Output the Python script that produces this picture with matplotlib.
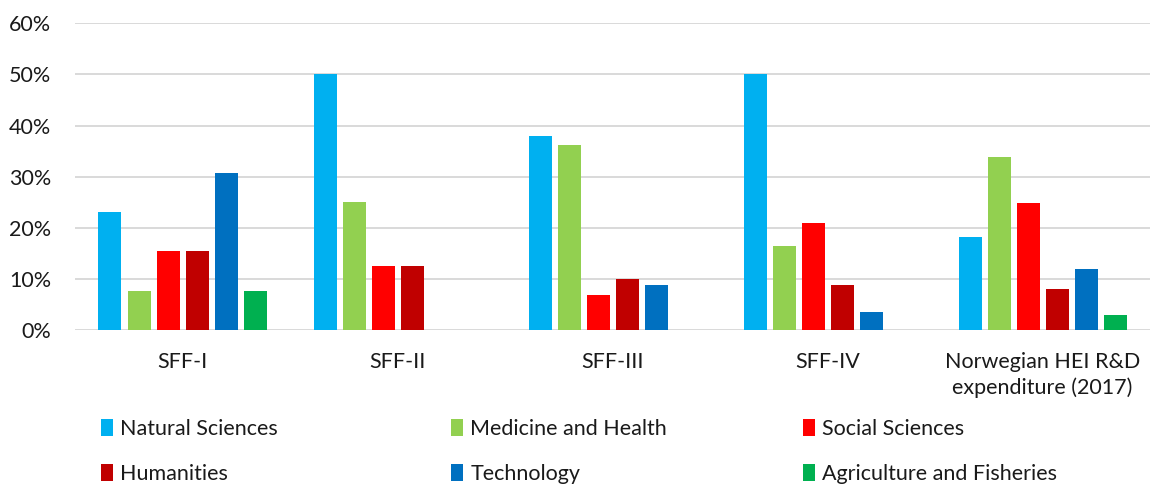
import matplotlib
matplotlib.use("Agg")
import matplotlib.pyplot as plt
import numpy as np
from matplotlib.ticker import PercentFormatter

plt.rcParams['font.family'] = ['Lato', 'DejaVu Sans']

categories = ["SFF-I", "SFF-II", "SFF-III", "SFF-IV", "Norwegian HEI R&D\nexpenditure (2017)"]
natural_sciences = [23.0, 50.0, 38.0, 50.0, 18.1]
medicine_health = [7.7, 25.0, 36.1, 16.4, 33.8]
social_sciences = [15.4, 12.5, 6.8, 21.0, 24.9]
humanities = [15.4, 12.5, 10.0, 8.9, 8.1]
technology = [30.8, 0.0, 8.8, 3.5, 12.0]
agriculture = [7.7, 0.0, 0.0, 0.0, 2.9]

series_names = ["Natural Sciences", "Medicine and Health", "Social Sciences",
                "Humanities", "Technology", "Agriculture and Fisheries"]
series = [natural_sciences, medicine_health, social_sciences, humanities, technology, agriculture]
colors = ["#00B0F0", "#92D050", "#FF0000", "#C00000", "#0070C0", "#00B050"]

FS = 15.5
fig = plt.figure(figsize=(11.54, 4.86), dpi=100)
ax = fig.add_axes([75/1154, 156/486, 1075/1154, (330-23.3)/486])

x = np.arange(len(categories))
slot = 29/215
width = 23/215
handles = []
for i, (vals, c, name) in enumerate(zip(series, colors, series_names)):
    b = ax.bar(x + (i - 2.5)*slot, vals, width, color=c, label=name, zorder=3)
    handles.append(b)

ax.set_xlim(-0.5, len(categories) - 0.5)
ax.set_ylim(0, 60)
ax.set_yticks(np.arange(0, 61, 10))
ax.yaxis.set_major_formatter(PercentFormatter(decimals=0))
ax.grid(axis='y', color='#d9d9d9', linewidth=1.4, zorder=0)
for s in ax.spines.values():
    s.set_visible(False)
ax.tick_params(axis='both', length=0, labelsize=FS, colors='#1a1a1a')
ax.tick_params(axis='y', pad=17)
ax.tick_params(axis='x', pad=16)
ax.set_xticks(x)
ax.set_xticklabels(categories, linespacing=1.3)

col_x = [101, 451, 803]
for col in range(3):
    idx = [col, col + 3]
    leg = fig.legend(handles=[handles[k] for k in idx],
                     labels=[series_names[k] for k in idx], ncol=1,
                     loc='upper left', bbox_to_anchor=(col_x[col]/1154, 1 - 419/486),
                     frameon=False, fontsize=FS,
                     handlelength=0.55, handleheight=0.8, handletextpad=0.35,
                     labelspacing=1.15, borderaxespad=0, borderpad=0)
    for t in leg.get_texts():
        t.set_color('#1a1a1a')

fig.savefig("out.png", dpi=100)
